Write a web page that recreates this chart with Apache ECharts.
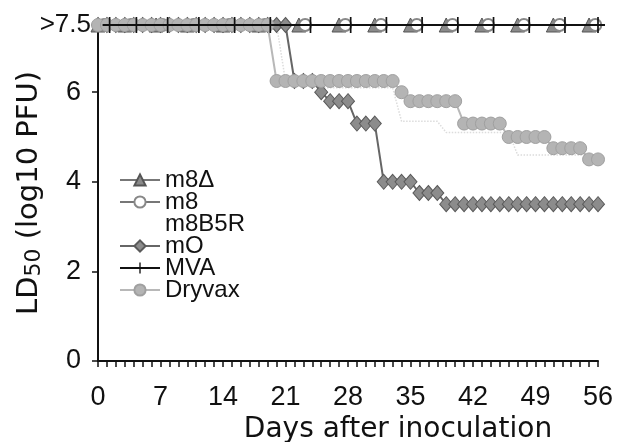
<!DOCTYPE html>
<html><head><meta charset="utf-8">
<script src="https://cdn.jsdelivr.net/npm/echarts@6/dist/echarts.min.js"></script>
<style>html,body{margin:0;padding:0;background:#fff}#c{width:624px;height:442px}</style>
</head><body><div id="c"></div>
<script>
// ---- data ----
const daysDaily = [0,1,2,3,4,5,6,7,8,9,10,11,12,13,14,15,16,17,18,19,20,21,22,23,24,25,26,27,28,29,30,31,32,33,34,35,36,37,38,39,40,41,42,43,44,45,46,47,48,49,50,51,52,53,54,55,56];
const dryvax = [7.5,7.5,7.5,7.5,7.5,7.5,7.5,7.5,7.5,7.5,7.5,7.5,7.5,7.5,7.5,7.5,7.5,7.5,7.5,7.5,
  6.25,6.25,6.25,6.25,6.25,6.25,6.25,6.25,6.25,6.25,6.25,6.25,6.25,6.25,
  6.0,5.8,5.8,5.8,5.8,5.8,5.8,5.3,5.3,5.3,5.3,5.3,5.0,5.0,5.0,5.0,5.0,4.75,4.75,4.75,4.75,4.5,4.5];
const mO = [7.5,7.5,7.5,7.5,7.5,7.5,7.5,7.5,7.5,7.5,7.5,7.5,7.5,7.5,7.5,7.5,7.5,7.5,7.5,7.5,7.5,7.5,
  6.25,6.25,6.25,6.0,5.8,5.8,5.8,5.3,5.3,5.3,4.0,4.0,4.0,4.0,3.75,3.75,3.75,
  3.5,3.5,3.5,3.5,3.5,3.5,3.5,3.5,3.5,3.5,3.5,3.5,3.5,3.5,3.5,3.5,3.5,3.5];
const m8B5R = [7.5,7.5,7.5,7.5,7.5,7.5,7.5,7.5,7.5,7.5,7.5,7.5,7.5,7.5,7.5,7.5,7.5,7.5,7.5,7.5,7.5,
  6.25,6.25,6.25,6.25,6.1,6.1,6.1,6.1,6.1,6.1,6.1,6.1,6.1,5.35,5.35,5.35,5.35,5.35,
  5.1,5.1,5.1,5.1,5.1,5.1,5.1,5.1,4.6,4.6,4.6,4.6,4.6,4.6,4.6,4.6,4.6,4.6];
const m8dDays = [0,3,6.5,10,14,18,22.5,27,31,35,39,43,47,51,55];
const m8dVals = [7.5,7.5,7.5,7.5,7.5,7.5,7.5,7.5,7.5,7.5,7.5,7.5,7.5,7.5,7.5];
const m8Days = [0.7,3.7,7.2,10.7,14.7,18.7,23.2,27.7,31.7,35.7,39.7,43.7,47.7,51.7,55.7];
const m8Vals = [7.5,7.5,7.5,7.5,7.5,7.5,7.5,7.5,7.5,7.5,7.5,7.5,7.5,7.5,7.5];
const mvaDays = [1.3,4.3,7.8,11.3,15.3,19.3,23.8,28.3,32.3,36.3,40.3,44.3,48.3,52.3,56];
const mvaVals = [7.5,7.5,7.5,7.5,7.5,7.5,7.5,7.5,7.5,7.5,7.5,7.5,7.5,7.5,7.5];
const xTicks = [0,7,14,21,28,35,42,49,56];
const yTicks = [0,2,4,6];
const yTopValue = 7.5;
const yTopLabel = '>7.5';

const pair = (xs, ys) => xs.map((x, i) => [x, ys[i]]);
const FONT = "'Liberation Sans', Arial, sans-serif";
const WIDE = "'DejaVu Sans', 'Liberation Sans', sans-serif";
const INK = '#111';

const chart = echarts.init(document.getElementById('c'), null, {renderer: 'canvas'});
chart.setOption({
  animation: false,
  backgroundColor: '#fff',
  textStyle: {fontFamily: FONT, color: INK},
  grid: {left: 98, right: 26, top: 25, bottom: 81, outerBoundsMode: 'none', containLabel: false},
  xAxis: {
    type: 'value', min: 0, max: 56, interval: 7,
    name: 'Days after inoculation', nameLocation: 'middle', nameGap: 55, nameMoveOverlap: false,
    nameTextStyle: {fontSize: 28, color: INK, fontFamily: WIDE, padding: [0, 0, 0, 100]},
    axisLine: {lineStyle: {color: INK, width: 2}},
    axisTick: {show: true, length: 6, lineStyle: {color: INK, width: 1.5}},
    minorTick: {show: true, splitNumber: 7, length: 6, lineStyle: {color: INK, width: 1.5}},
    splitLine: {show: false},
    axisLabel: {fontSize: 27, color: INK, margin: 23, fontFamily: FONT,
      formatter: v => xTicks.includes(v) ? String(v) : ''}
  },
  yAxis: {
    type: 'value', min: 0, max: yTopValue, interval: 2,
    name: 'LD{sub|50} (log10 PFU)', nameLocation: 'middle', nameGap: 53, nameMoveOverlap: false,
    nameTextStyle: {fontSize: 29, color: INK, fontFamily: WIDE,
      rich: {sub: {fontSize: 22, verticalAlign: 'bottom', padding: [10, 0, 0, 0], fontFamily: WIDE, color: INK}}},
    axisLine: {show: true, lineStyle: {color: INK, width: 2}},
    axisTick: {show: true, length: 6, lineStyle: {color: INK, width: 1.5}},
    splitLine: {show: false},
    axisLabel: {fontSize: 27, color: INK, margin: 17, fontFamily: FONT,
      formatter: v => yTicks.includes(v) ? String(v) : ''}
  },
  legend: {
    orient: 'vertical', left: 114, top: 163, itemGap: -2, itemWidth: 40, itemHeight: 14,
    textStyle: {fontSize: 24, color: INK, fontFamily: FONT},
    data: ['m8Δ', 'm8', {name: 'm8B5R', itemStyle: {opacity: 0}, lineStyle: {opacity: 0}}, 'mO', 'MVA', 'Dryvax']
  },
  series: [
    {name: 'm8Δ', type: 'line', data: pair(m8dDays, m8dVals), symbol: 'triangle', symbolSize: 14,
     itemStyle: {color: '#8a8a8a', borderColor: '#555', borderWidth: 1},
     lineStyle: {color: '#777', width: 2}, z: 3},
    {name: 'm8', type: 'line', data: pair(m8Days, m8Vals), symbol: 'emptyCircle', symbolSize: 12,
     itemStyle: {color: '#888', borderColor: '#888', borderWidth: 2.5},
     lineStyle: {color: '#777', width: 2}, z: 3},
    {name: 'm8B5R', type: 'line', data: pair(daysDaily, m8B5R), symbol: 'none',
     itemStyle: {color: '#e2e2e2'},
     lineStyle: {color: '#dcdcdc', width: 1.5, type: 'dotted'}, z: 1},
    {name: 'mO', type: 'line', data: pair(daysDaily, mO), symbol: 'diamond', symbolSize: [13, 15],
     itemStyle: {color: '#8c8c8c', borderColor: '#5a5a5a', borderWidth: 1},
     lineStyle: {color: '#666', width: 2}, z: 2},
    {name: 'MVA', type: 'line', data: pair(mvaDays, mvaVals), clip: false,
     symbol: 'path://M4.4,0h1.2v10h-1.2z M0,4.4h10v1.2h-10z', symbolSize: [14, 16],
     itemStyle: {color: '#111'},
     lineStyle: {color: '#111', width: 2}, z: 5},
    {name: 'Dryvax', type: 'line', data: pair(daysDaily, dryvax), symbol: 'circle', symbolSize: 13,
     itemStyle: {color: '#b4b4b4', borderColor: '#a0a0a0', borderWidth: 1},
     lineStyle: {color: '#b8b8b8', width: 2}, z: 4}
  ]
});
// top tick label placed via the library's own y scale
const yTopPx = chart.convertToPixel({yAxisIndex: 0}, yTopValue);
const xZeroPx = chart.convertToPixel({xAxisIndex: 0}, 0);
chart.setOption({
  graphic: [{
    type: 'text', x: xZeroPx - 7, y: yTopPx, z: 10,
    style: {text: yTopLabel, fontSize: 26, fontFamily: FONT, fill: INK, align: 'right', verticalAlign: 'middle'}
  }]
});
</script></body></html>
